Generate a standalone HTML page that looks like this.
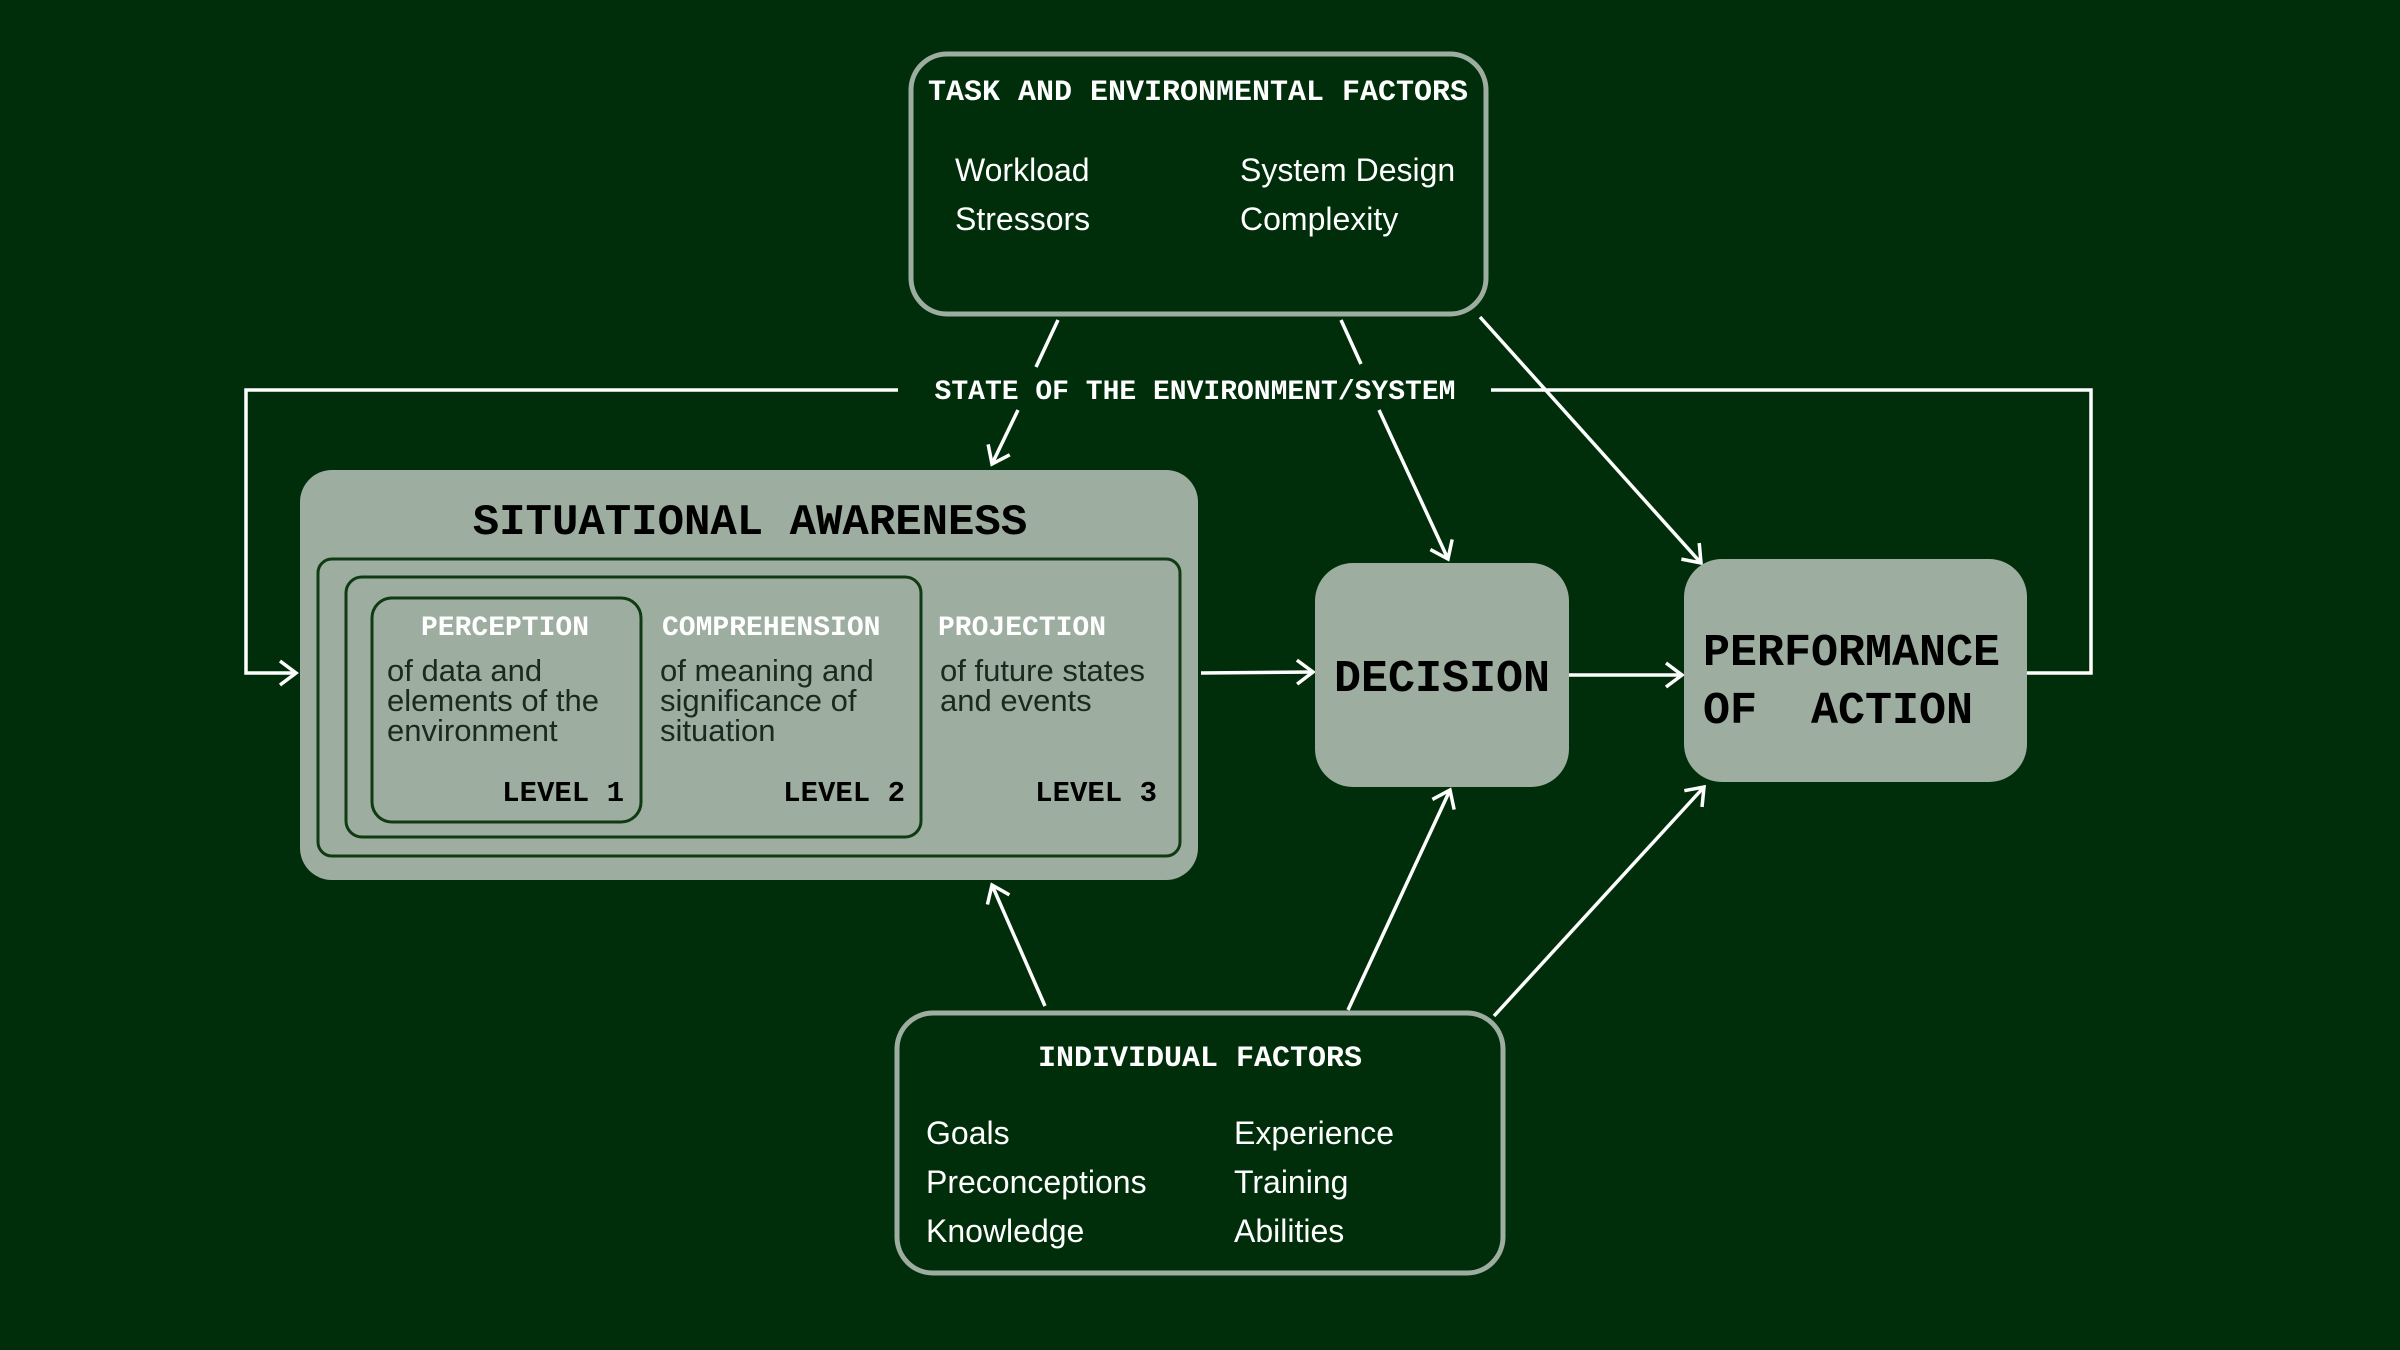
<!DOCTYPE html>
<html><head><meta charset="utf-8"><style>
html,body{margin:0;padding:0;background:#002e0a;}
svg{display:block}
.m{font-family:"Liberation Mono","DejaVu Sans Mono",monospace;font-weight:bold}
.l{font-family:"Liberation Sans","DejaVu Sans",sans-serif;font-weight:normal}
</style></head><body>
<svg width="2400" height="1350" viewBox="0 0 2400 1350" xmlns="http://www.w3.org/2000/svg">
<defs>
<marker id="a" markerWidth="12" markerHeight="12" refX="10" refY="6" orient="auto" markerUnits="userSpaceOnUse" viewBox="0 0 12 12">
<polyline points="1,0.5 10,6 1,11.5" fill="none" stroke="#fff" stroke-width="2.2"/>
</marker>
<marker id="b" markerWidth="30" markerHeight="30" refX="26" refY="15" orient="auto" markerUnits="userSpaceOnUse" viewBox="0 0 30 30">
<polyline points="10,3 26,15 10,27" fill="none" stroke="#fff" stroke-width="3.5"/>
</marker>
</defs>
<rect width="2400" height="1350" fill="#002e0a"/>

<!-- Task box -->
<rect x="911" y="54" width="575" height="260" rx="36" fill="none" stroke="#9dada0" stroke-width="5"/>
<text class="m" x="1198" y="100" font-size="30" fill="#fff" text-anchor="middle">TASK AND ENVIRONMENTAL FACTORS</text>
<g class="l" font-size="32" fill="#fff">
<text x="955" y="181">Workload</text>
<text x="955" y="230">Stressors</text>
<text x="1240" y="181">System Design</text>
<text x="1240" y="230">Complexity</text>
</g>

<!-- state line -->
<g fill="none" stroke="#fff" stroke-width="3.5">
<polyline points="898,390 246,390 246,673 296,673" marker-end="url(#b)"/>
<polyline points="1491,390 2091,390 2091,673 2027,673"/>
<line x1="1058" y1="320" x2="1036" y2="367"/>
<line x1="1018" y1="410" x2="992" y2="464" marker-end="url(#b)"/>
<line x1="1341" y1="320" x2="1361" y2="364"/>
<line x1="1379" y1="410" x2="1448" y2="559" marker-end="url(#b)"/>
<line x1="1480" y1="317" x2="1701" y2="563" marker-end="url(#b)"/>
<line x1="1201" y1="673" x2="1313" y2="672" marker-end="url(#b)"/>
<line x1="1569" y1="675" x2="1682" y2="675" marker-end="url(#b)"/>
<line x1="1045" y1="1006" x2="992" y2="885" marker-end="url(#b)"/>
<line x1="1348" y1="1010" x2="1450" y2="790" marker-end="url(#b)"/>
<line x1="1494" y1="1016" x2="1704" y2="787" marker-end="url(#b)"/>
</g>
<text class="m" x="1195" y="399" font-size="28" fill="#fff" text-anchor="middle">STATE OF THE ENVIRONMENT/SYSTEM</text>

<!-- SA -->
<rect x="300" y="470" width="898" height="410" rx="32" fill="#9dada0"/>
<text class="m" x="750" y="534" font-size="44" fill="#000" text-anchor="middle">SITUATIONAL AWARENESS</text>
<g fill="none" stroke="#0f3a12" stroke-width="3">
<rect x="318" y="559" width="862" height="297" rx="14"/>
<rect x="346" y="577" width="575" height="260" rx="16"/>
<rect x="372" y="598" width="269" height="224" rx="20"/>
</g>
<g class="m" font-size="28" fill="#fff">
<text x="505" y="635" text-anchor="middle">PERCEPTION</text>
<text x="662" y="635">COMPREHENSION</text>
<text x="938" y="635">PROJECTION</text>
</g>
<g class="l" font-size="31" fill="#1c2a1e">
<text x="387" y="681">of data and</text>
<text x="387" y="711">elements of the</text>
<text x="387" y="741">environment</text>
<text x="660" y="681">of meaning and</text>
<text x="660" y="711">significance of</text>
<text x="660" y="741">situation</text>
<text x="940" y="681">of future states</text>
<text x="940" y="711">and events</text>
</g>
<g class="m" font-size="29" fill="#000" text-anchor="end">
<text x="624" y="801">LEVEL 1</text>
<text x="905" y="801">LEVEL 2</text>
<text x="1157" y="801">LEVEL 3</text>
</g>

<!-- Decision -->
<rect x="1315" y="563" width="254" height="224" rx="38" fill="#9dada0"/>
<text class="m" x="1442" y="691" font-size="45" fill="#000" text-anchor="middle">DECISION</text>

<!-- Performance -->
<rect x="1684" y="559" width="343" height="223" rx="38" fill="#9dada0"/>
<text class="m" x="1703" y="665" font-size="45" fill="#000" xml:space="preserve">PERFORMANCE</text>
<text class="m" x="1703" y="723" font-size="45" fill="#000" xml:space="preserve">OF  ACTION</text>

<!-- Individual -->
<rect x="897" y="1013" width="606" height="260" rx="36" fill="none" stroke="#9dada0" stroke-width="5"/>
<text class="m" x="1200" y="1066" font-size="30" fill="#fff" text-anchor="middle">INDIVIDUAL FACTORS</text>
<g class="l" font-size="32" fill="#fff">
<text x="926" y="1144">Goals</text>
<text x="926" y="1193">Preconceptions</text>
<text x="926" y="1242">Knowledge</text>
<text x="1234" y="1144">Experience</text>
<text x="1234" y="1193">Training</text>
<text x="1234" y="1242">Abilities</text>
</g>
</svg>
</body></html>
